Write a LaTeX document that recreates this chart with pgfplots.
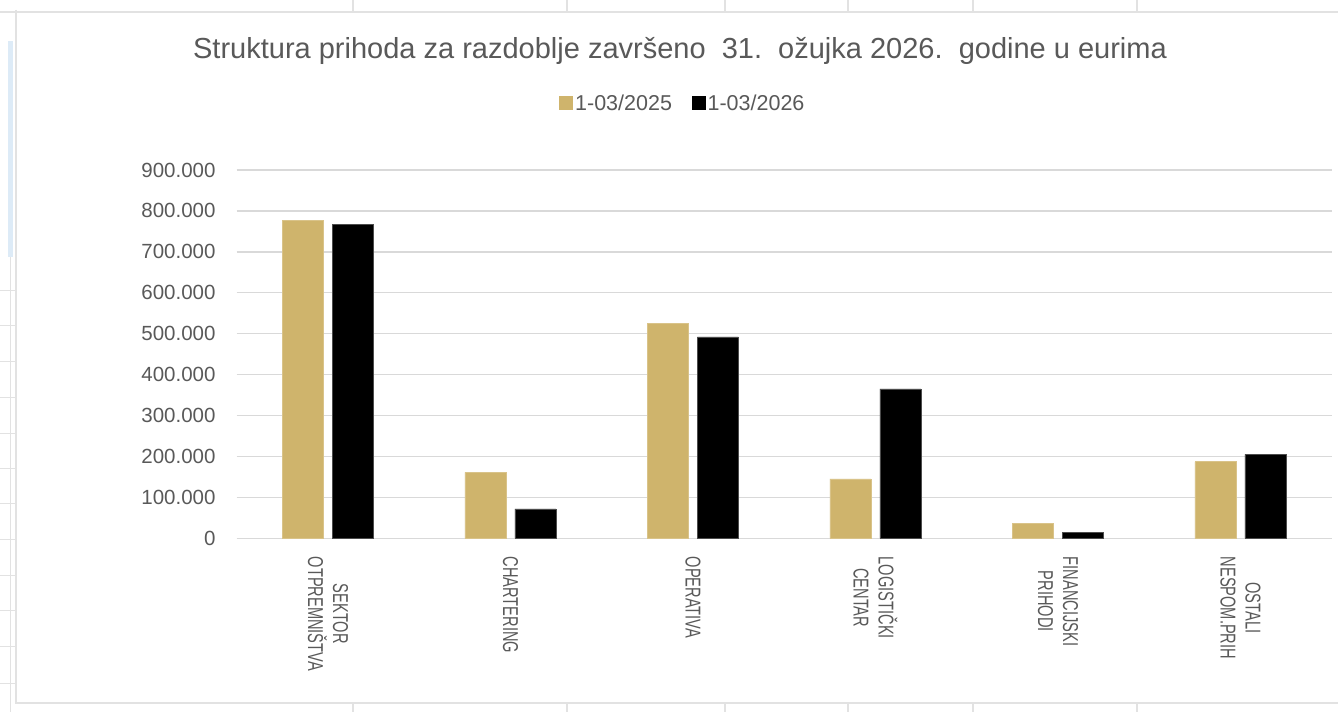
\documentclass[border=0pt]{standalone}
\usepackage{pgfplots}
\pgfplotsset{compat=1.18}
\usepackage{fontspec}
\setmainfont{Liberation Sans}
\newfontfamily\condfont[FakeStretch=0.68]{Liberation Sans}
\definecolor{txt}{HTML}{595959}
\definecolor{gridc}{HTML}{D9D9D9}
\definecolor{cellc}{HTML}{E2E2E2}
\definecolor{tanc}{HTML}{CFB46C}
\definecolor{selc}{HTML}{DDEBF7}
\begin{document}
\begin{tikzpicture}
\useasboundingbox (0pt,0pt) rectangle (1338pt,712pt);
\fill[white] (0pt,0pt) rectangle (1338pt,712pt);
% spreadsheet cell lines around the chart
\draw[cellc, line width=1.2pt] (0pt,700pt) -- (1338pt,700pt);
\foreach \xx in {353,567,725,848,973,1137} {
  \draw[cellc, line width=1.2pt] (\xx pt,700pt) -- (\xx pt,712pt);
  \draw[cellc, line width=1.2pt] (\xx pt,0pt) -- (\xx pt,9pt);
}
\foreach \yy in {291,326,362,398,434,469,504,540,576,611,647,683} {
  \draw[cellc, line width=1pt] (0pt,712pt-\yy pt) -- (16pt,712pt-\yy pt);
}
\fill[selc] (8pt,455pt) rectangle (13pt,671pt);
\draw[cellc, line width=1pt] (10pt,0pt) -- (10pt,455pt);
\draw[cellc, line width=1.2pt] (16pt,702pt) -- (16pt,9pt) -- (1338pt,9pt);
% title
\node[anchor=base, text=txt, font=\fontsize{29}{34}\selectfont, inner sep=0pt] at (680pt,653.7pt)
  {Struktura prihoda za razdoblje završeno\ \ 31.\ \ ožujka 2026.\ \ godine u eurima};
\begin{axis}[
  at={(236.7pt,173.7pt)}, anchor=south west,
  scale only axis, width=1095pt, height=368.3pt,
  xmin=-0.5, xmax=5.5, ymin=0, ymax=900000,
  ybar=9pt, bar width=41pt,
  xtick={0,1,2,3,4,5},
  xticklabels={{SEKTOR\\OTPREMNIŠTVA},CHARTERING,OPERATIVA,{LOGISTIČKI\\CENTAR},{FINANCIJSKI\\PRIHODI},{OSTALI\\NESPOM.PRIH}},
  xticklabel style={rotate=-90, anchor=west, align=center, inner sep=0pt,
    font=\condfont\fontsize{21.5}{25}\selectfont, text=txt},
  xticklabel shift=14pt,
  ytick={0,100000,...,900000},
  scaled y ticks=false,
  yticklabel style={anchor=east, inner sep=0pt, font=\fontsize{20.5}{24}\selectfont, text=txt,
    /pgf/number format/.cd, fixed, 1000 sep={.}, assume math mode=true},
  yticklabel shift=21pt,
  ymajorgrids, major grid style={gridc, line width=1.4pt},
  axis line style={draw=none}, tick style={draw=none},
  legend columns=2,
  legend style={at={(0.4076,1.182)}, anchor=center, draw=none, fill=none,
    font=\fontsize{21.5}{25}\selectfont, text=txt,
    nodes={inner sep=2.5pt},
    /tikz/every even column/.append style={column sep=17pt}},
  clip=false,
]
\addplot[fill=tanc, draw=tanc!80!white, line width=0.6pt,
  legend image code/.code={\fill[tanc] (0pt,-6.5pt) rectangle (13pt,6.5pt);}]
  coordinates {(0,776000) (1,161000) (2,525000) (3,145000) (4,36000) (5,187000)};
\addplot[fill=black, draw=black!70, line width=0.6pt,
  legend image code/.code={\fill[black] (0pt,-6.5pt) rectangle (13pt,6.5pt);}]
  coordinates {(0,768000) (1,72000) (2,492000) (3,365000) (4,15000) (5,205000)};
\legend{1-03/2025,1-03/2026}
\end{axis}
\end{tikzpicture}
\end{document}
